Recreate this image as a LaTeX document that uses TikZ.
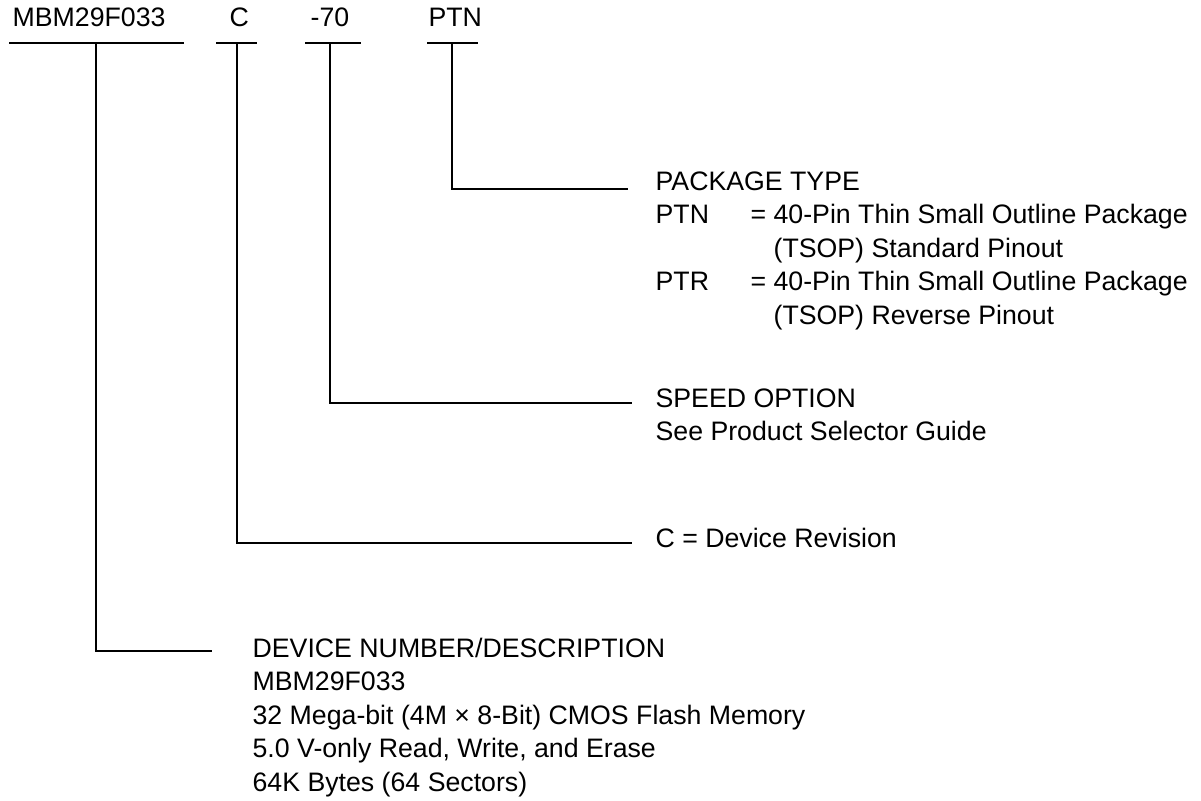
\documentclass[tikz,border=0pt]{standalone}
\usepackage{fontspec}
\setmainfont{Liberation Sans}
\usepackage{tikz}
\usetikzlibrary{positioning}
\usetikzlibrary{calc}

\begin{document}
\begin{tikzpicture}[x=0.02cm, y=-0.02cm, line width=0.7pt,
  lbl/.style={anchor=base west, inner sep=0pt, font=\fontsize{15.2}{18}\selectfont}]
 \useasboundingbox (0,0) rectangle (1201,801);

 % part number fields
  \foreach \nm/\txt/\tx/\la/\lb/\tap in {mbm/MBM29F033/12/9/184/96, rev/C/229/216/257/237, spd/-70/310/305/361/330}{
         \node[lbl] (\nm) at (\tx,27) {\txt};
         \draw (\la,43) -- (\lb,43);
         \coordinate (\nm-tap) at (\tap,43);
 }
 \node[lbl] (pkg) at (428,27) {PTN};
 \draw[line width=1.7pt] (427,43) -- (478,43);
 \coordinate (pkg-tap) at (452,43);

 % package type
 \node[lbl] (pkgh) at (655,190) {PACKAGE TYPE};
 \foreach \i/\code/\first/\second in {0/PTN/40-Pin Thin Small Outline Package/(TSOP) Standard Pinout, 1/PTR/40-Pin Thin Small Outline Package/(TSOP) Reverse Pinout}{
         \node[lbl] (code\i) at (655,223.5+\i*67) {\code};
         \node[lbl] (eq\i) at (750,223.5+\i*67) {=};
         \node[lbl] (desc\i) at (773,223.5+\i*67) {\first};
         \node[lbl] (descb\i) at (773,257+\i*67) {\second};
 }

 % speed option
 \node[lbl] (spdh) at (655,407) {SPEED OPTION};
 \node[lbl] (spdd) at (655,440.5) {See Product Selector Guide};

 % revision
 \node[lbl] (revh) at (655,547) {C = Device Revision};

 % device number
 \foreach \i/\line in {0/{DEVICE NUMBER/DESCRIPTION}, 1/MBM29F033, 2/32 Mega-bit (4M × 8-Bit) CMOS Flash Memory, 3/{5.0 V-only Read, Write, and Erase}, 4/64K Bytes (64 Sectors)}{
         \node[lbl] (dev\i) at (252,657+\i*33.5) {\line};
 }

 % leaders
 \coordinate (pkg-end) at (628,189);
 \coordinate (spd-end) at (632,403);
 \coordinate (rev-end) at (632,543);
 \coordinate (mbm-end) at (212,651);
 \draw (pkg-tap) |- (pkg-end);
 \draw (spd-tap) |- (spd-end);
 \draw (rev-tap) |- (rev-end);
 \draw (mbm-tap) |- (mbm-end);

\end{tikzpicture}
\end{document}
